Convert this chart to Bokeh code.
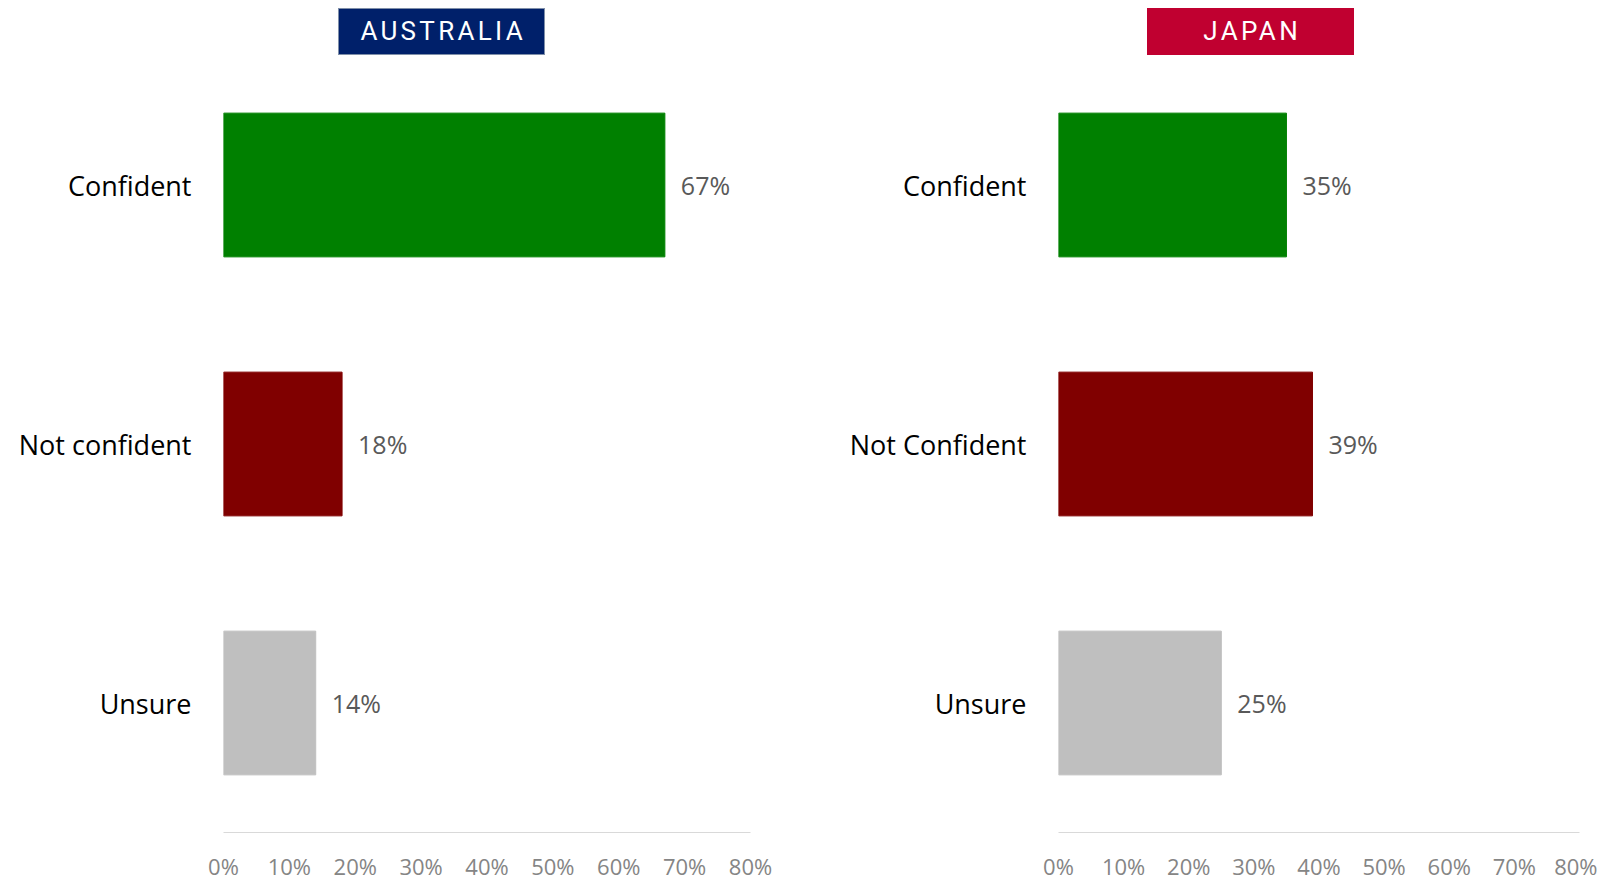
from bokeh.plotting import figure
from bokeh.models import (ColumnDataSource, FactorRange, Range1d, FixedTicker,
                          PrintfTickFormatter, LabelSet, Div)
from bokeh.layouts import row, column
from bokeh.embed import file_html
from bokeh.resources import INLINE
from bokeh.core.properties import value

# ---- data ----
au_categories = ["Confident", "Not confident", "Unsure"]
au_values = [67, 18, 14]
jp_categories = ["Confident", "Not Confident", "Unsure"]
jp_values = [35, 39, 25]
bar_colors = ["#008000", "#800000", "#BFBFBF"]
x_ticks = [0, 10, 20, 30, 40, 50, 60, 70, 80]
titles = ["AUSTRALIA", "JAPAN"]
title_colors = ["#00206A", "#C00030"]

FONT = "Open Sans"


def make_fig(cats, vals, width, left, right):
    src = ColumnDataSource(dict(cat=cats, val=vals, color=bar_colors,
                                label=[f"{v}%" for v in vals]))
    p = figure(y_range=FactorRange(factors=list(reversed(cats)), range_padding=0),
               x_range=Range1d(0, 80),
               width=width, height=828,
               min_border_left=left, min_border_right=right,
               min_border_top=0, min_border_bottom=48,
               output_backend="svg", toolbar_location=None)
    p.hbar(y="cat", right="val", left=0, height=0.555, color="color", source=src)
    p.add_layout(LabelSet(x="val", y="cat", text="label", source=src,
                          x_offset=16, text_baseline="middle", text_align="left",
                          text_font=value(FONT), text_font_size="25px",
                          text_color="#595959"))
    p.outline_line_color = None
    p.xgrid.grid_line_color = None
    p.ygrid.grid_line_color = None
    p.background_fill_color = None
    p.border_fill_color = "white"

    xa = p.xaxis[0]
    xa.ticker = FixedTicker(ticks=x_ticks)
    xa.formatter = PrintfTickFormatter(format="%d%%")
    xa.axis_line_color = "#D9D9D9"
    xa.major_tick_line_color = None
    xa.minor_tick_line_color = None
    xa.major_label_text_font = FONT
    xa.major_label_text_font_size = "22px"
    xa.major_label_text_color = "#858585"
    xa.major_label_standoff = 12

    ya = p.yaxis[0]
    ya.axis_line_color = None
    ya.major_tick_line_color = None
    ya.minor_tick_line_color = None
    ya.major_label_text_font = FONT
    ya.major_label_text_font_size = "27px"
    ya.major_label_text_color = "#000000"
    ya.major_label_standoff = 26
    return p


def make_title(text, color, margin_left, border):
    html = (f'<div style="box-sizing:border-box;width:207px;height:47px;line-height:45px;'
            f'text-align:center;background:{color};color:#FFFFFF;border:1px solid {border};'
            f'font-family:Roboto;font-size:26px;letter-spacing:3.3px;text-indent:3.3px;">{text}</div>')
    return Div(text=html, width=207, height=47, margin=(0, 0, 0, margin_left))


p1 = make_fig(au_categories, au_values, 790, 215, 48)
p2 = make_fig(jp_categories, jp_values, 799, 260, 18)

t1 = make_title(titles[0], title_colors[0], 330, "#7F8FA9")
t2 = make_title(titles[1], title_colors[1], 349, title_colors[1])

layout = row(column(t1, p1, spacing=0), column(t2, p2, spacing=0), spacing=0)
layout.margin = (8, 0, 0, 8)

open("out.html", "w").write(file_html(layout, INLINE))
